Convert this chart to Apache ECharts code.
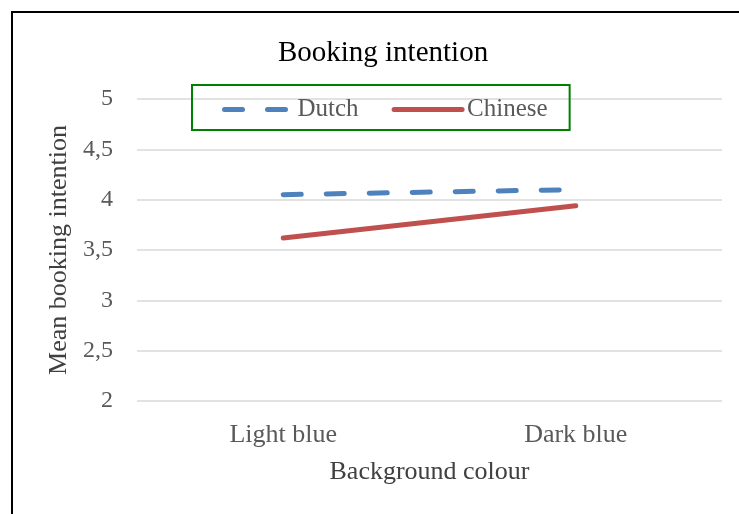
<!DOCTYPE html>
<html><head><meta charset="utf-8">
<script src="https://cdn.jsdelivr.net/npm/echarts@6/dist/echarts.min.js"></script>
<style>html,body{margin:0;padding:0;background:#fff;}#c{width:739px;height:514px;}</style>
</head><body><div id="c"></div>
<script>
const categories = ['Light blue', 'Dark blue'];
const dutch = [4.05, 4.10];
const chinese = [3.62, 3.94];
const yTicks = [2, 2.5, 3, 3.5, 4, 4.5, 5];

const F = "'Liberation Serif','Times New Roman',serif";
const chart = echarts.init(document.getElementById('c'), null, {renderer: 'canvas'});
chart.setOption({
  animation: false,
  backgroundColor: '#fff',
  title: {
    text: 'Booking intention', left: 378, top: 34, textAlign: 'center',
    textStyle: {fontFamily: F, fontSize: 29, fontWeight: 'normal', color: '#000'}
  },
  legend: {
    left: 192, top: 85, orient: 'horizontal',
    padding: [12, 22, 8, 30],
    borderColor: '#008000', borderWidth: 2,
    itemWidth: 68, itemHeight: 14, itemGap: 33,
    itemStyle: {opacity: 0},
    lineStyle: {width: 5, cap: 'round'},
    textStyle: {fontFamily: F, fontSize: 25, color: '#595959'},
    data: ['Dutch', 'Chinese']
  },
  grid: {left: 137, right: 17, top: 99, bottom: 113},
  xAxis: {
    type: 'category', data: categories, boundaryGap: true,
    axisLine: {show: false}, axisTick: {show: false},
    axisLabel: {fontFamily: F, fontSize: 26, color: '#595959', margin: 21},
    name: 'Background colour', nameLocation: 'middle', nameGap: 58,
    nameTextStyle: {fontFamily: F, fontSize: 26, color: '#404040'}
  },
  yAxis: {
    type: 'value', min: yTicks[0], max: yTicks[yTicks.length - 1], interval: 0.5,
    axisLine: {show: false}, axisTick: {show: false},
    axisLabel: {fontFamily: F, fontSize: 24, color: '#595959', margin: 24,
      formatter: v => String(v).replace('.', ',')},
    splitLine: {lineStyle: {color: '#d9d9d9', width: 1.5}},
    name: 'Mean booking intention', nameLocation: 'middle', nameGap: 59, nameRotate: 90,
    nameTextStyle: {fontFamily: F, fontSize: 26, color: '#404040'}
  },
  graphic: [{
    type: 'rect', shape: {x: 12, y: 12, width: 800, height: 600},
    style: {fill: 'none', stroke: '#000', lineWidth: 2}, z: 100, silent: true
  }],
  series: [
    {name: 'Dutch', type: 'line', data: dutch, symbol: 'none', color: '#4F81BD',
      lineStyle: {color: '#4F81BD', width: 5, type: [18, 25], cap: 'round'}},
    {name: 'Chinese', type: 'line', data: chinese, symbol: 'none', color: '#C0504D',
      lineStyle: {color: '#C0504D', width: 5, type: 'solid', cap: 'round'}}
  ]
});
</script></body></html>
